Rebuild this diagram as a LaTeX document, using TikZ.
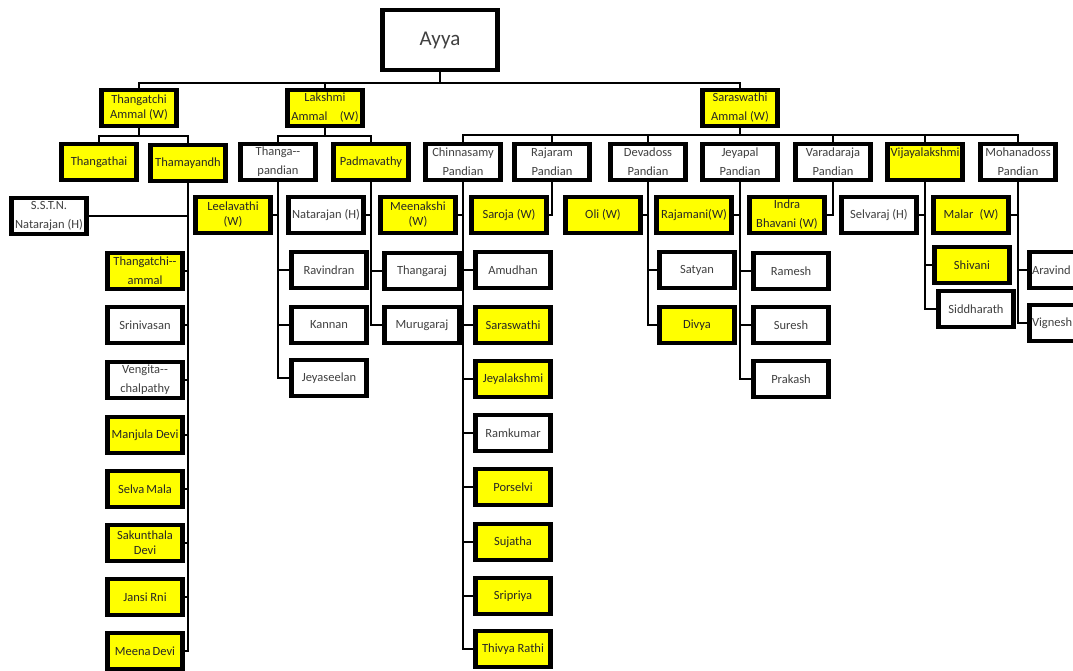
\documentclass[tikz,border=0pt]{standalone}
\usepackage{fontspec}
\setmainfont{Carlito}
\usetikzlibrary{shadows}
\definecolor{boxyellow}{RGB}{255,255,0}
\definecolor{nametext}{RGB}{64,64,64}
\tikzset{
  pbox/.style={draw=black, line width=4.5pt, fill=white, minimum width=75pt, minimum height=36pt,
    inner sep=1pt, align=center, text=nametext, font=\fontsize{12.5}{15}\selectfont,
    drop shadow={shadow xshift=1.5pt, shadow yshift=-1.5pt, opacity=0.35}},
  ybox/.style={pbox, fill=boxyellow, text=black!85},
  wide/.style={font=\fontsize{12.5}{19}\selectfont},
  link/.style={line width=2.2pt}
}
\begin{document}
\begin{tikzpicture}[x=1pt,y=-1pt]
    \useasboundingbox (0,0) rectangle (1073,671);
    \clip (0,0) rectangle (1073,671);
    %top
    \node[pbox, minimum width=115pt, minimum height=60pt, font=\fontsize{21}{25}\selectfont] (ayya) at (440,40) {Ayya};

    %daughters
    \node[ybox] (thangatchi) at (139,108) {Thangatchi\\Ammal (W)};
    \node[ybox, wide] (lakshmi) at (325,108) {Lakshmi\\Ammal\quad(W)};
    \node[ybox, wide] (saraswathi) at (740,108) {Saraswathi\\Ammal (W)};

    %second generation
    \node[ybox] (thangathai) at (99,162) {Thangathai};
    \node[ybox] (thamayandh) at (188,163) {Thamayandh};
    \node[pbox, wide] (thanga) at (278,162) {Thanga-{}-\\pandian};
    \node[ybox] (padma) at (371,162) {Padmavathy};
    \node[pbox, wide] (chinna) at (463,162) {Chinnasamy\\Pandian};
    \node[pbox, wide] (rajaram) at (552,162) {Rajaram\\Pandian};
    \node[pbox, wide] (devadoss) at (648,162) {Devadoss\\Pandian};
    \node[pbox, wide] (jeyapal) at (740,162) {Jeyapal\\Pandian};
    \node[pbox, wide] (varada) at (833,162) {Varadaraja\\Pandian};
    \node[ybox, wide] (vijaya) at (925,162) {Vijayalakshmi\\\phantom{P}};
    \node[pbox, wide] (mohana) at (1018,162) {Mohanadoss\\Pandian};

    %spouses
    \node[pbox, wide] (sstn) at (49,216) {S.S.T.N.\\Natarajan (H)};
    \node[ybox] (leela) at (233,215) {Leelavathi\\(W)};
    \node[pbox] (natarajan) at (326,215) {Natarajan (H)};
    \node[ybox] (meenakshi) at (418,215) {Meenakshi\\(W)};
    \node[ybox] (saroja) at (509,215) {Saroja (W)};
    \node[ybox] (oli) at (603,215) {Oli (W)};
    \node[ybox] (rajamani) at (694,215) {Rajamani(W)};
    \node[ybox, wide] (indra) at (787,215) {Indra\\Bhavani (W)};
    \node[pbox] (selvaraj) at (879,215) {Selvaraj (H)};
    \node[ybox] (malar) at (971,215) {Malar\enspace(W)};

    %third generation
    \node[ybox, wide] (tammal) at (145,271) {Thangatchi-{}-\\ammal};
    \node[pbox] (srinivasan) at (145,325) {Srinivasan};
    \node[pbox, wide] (vengita) at (145,380) {Vengita-{}-\\chalpathy};
    \node[ybox] (manjula) at (145,435) {Manjula Devi};
    \node[ybox] (selvamala) at (145,489) {Selva\,Mala};
    \node[ybox] (sakunthala) at (145,543) {Sakunthala\\Devi};
    \node[ybox] (jansi) at (145,597) {Jansi Rni};
    \node[ybox] (meena) at (145,651) {Meena\,Devi};

    \node[pbox] (ravindran) at (329,270) {Ravindran};
    \node[pbox] (kannan) at (329,325) {Kannan};
    \node[pbox] (jeyaseelan) at (329,378) {Jeyaseelan};

    \node[pbox] (thangaraj) at (422,271) {Thangaraj};
    \node[pbox] (murugaraj) at (422,325) {Murugaraj};

    \node[pbox] (amudhan) at (513,270) {Amudhan};
    \node[ybox] (saras) at (513,325) {Saraswathi};
    \node[ybox] (jeyalakshmi) at (513,379) {Jeyalakshmi};
    \node[pbox] (ramkumar) at (513,433) {Ramkumar};
    \node[ybox] (porselvi) at (513,487) {Porselvi};
    \node[ybox] (sujatha) at (513,542) {Sujatha};
    \node[ybox] (sripriya) at (513,596) {Sripriya};
    \node[ybox] (thivya) at (513,649) {Thivya Rathi};

    \node[pbox] (satyan) at (697,270) {Satyan};
    \node[ybox] (divya) at (697,325) {Divya};

    \node[pbox] (ramesh) at (791,271) {Ramesh};
    \node[pbox] (suresh) at (791,325) {Suresh};
    \node[pbox] (prakash) at (791,379) {Prakash};

    \node[ybox] (shivani) at (972,265) {Shivani};
    \node[pbox] (siddharath) at (976,309) {Siddharath};

    \node[pbox, text width=70pt, align=left] (aravind) at (1067,270) {Aravind};
    \node[pbox, text width=70pt, align=left] (vignesh) at (1067,323) {Vignesh};

    %links from the top
    \draw[link] (ayya.south) -- ++(0,11) coordinate (ayyabus);
    \draw[link] (thangatchi.north) |- (ayyabus) -| (saraswathi.north);
    \draw[link] (lakshmi.north) -- (lakshmi.north |- ayyabus);

    \draw[link] (thangatchi.south) -- ++(0,8) coordinate (tbus);
    \draw[link] (thangathai.north) |- (tbus) -| (thamayandh.north);
    \draw[link] (lakshmi.south) -- ++(0,8) coordinate (lbus);
    \draw[link] (thanga.north) |- (lbus) -| (padma.north);
    \draw[link] (saraswathi.south) -- ++(0,7) coordinate (sbus);
    \draw[link] (chinna.north) |- (sbus) -| (mohana.north);
    \foreach \son in {rajaram,devadoss,varada,vijaya}
        \draw[link] (\son.north) -- (\son.north |- sbus);

    %family lines
    \foreach \kid in {tammal,srinivasan,vengita,manjula,selvamala,sakunthala,jansi,meena}
        \draw[link] (thamayandh.south) |- (\kid.east);
    \draw[link] (sstn.east) -- (sstn.east -| thamayandh.south);

    \draw[link] (thanga.south) |- (leela.east);
    \foreach \kid in {ravindran,kannan,jeyaseelan}
        \draw[link] (thanga.south) |- (\kid.west);

    \draw[link] (padma.south) |- (natarajan.east);
    \foreach \kid in {thangaraj,murugaraj}
        \draw[link] (padma.south) |- (\kid.west);

    \draw[link] (chinna.south) |- (meenakshi.east);
    \foreach \kid in {amudhan,saras,jeyalakshmi,ramkumar,porselvi,sujatha,sripriya,thivya}
        \draw[link] (chinna.south) |- (\kid.west);

    \draw[link] (rajaram.south) |- (saroja.east);

    \draw[link] (devadoss.south) |- (oli.east);
    \foreach \kid in {satyan,divya}
        \draw[link] (devadoss.south) |- (\kid.west);

    \draw[link] (jeyapal.south) |- (rajamani.east);
    \foreach \kid in {ramesh,suresh,prakash}
        \draw[link] (jeyapal.south) |- (\kid.west);

    \draw[link] (varada.south) |- (indra.east);

    \draw[link] (vijaya.south) |- (selvaraj.east);
    \foreach \kid in {shivani,siddharath}
        \draw[link] (vijaya.south) |- (\kid.west);

    \draw[link] (mohana.south) |- (malar.east);
    \foreach \kid in {aravind,vignesh}
        \draw[link] (mohana.south) |- (\kid.west);
\end{tikzpicture}
\end{document}
